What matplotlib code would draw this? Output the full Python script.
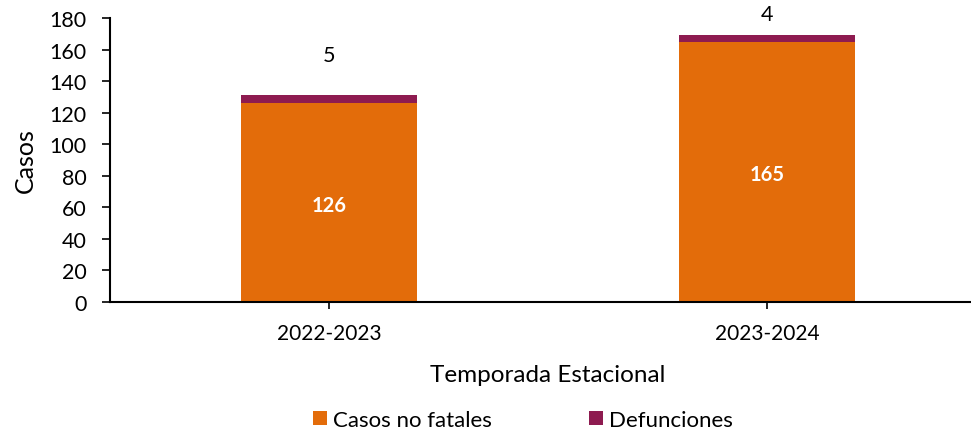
import matplotlib
matplotlib.use("Agg")
import matplotlib.pyplot as plt
import numpy as np

plt.rcParams['font.family'] = ['Lato', 'DejaVu Sans']

categories = ["2022-2023", "2023-2024"]
no_fatales = [126, 165]
defunciones = [5, 4]
# extra offset (in data units) of the Defunciones labels above the bar top
def_label_offset = [27, 15]

c_orange = "#E36C0A"
c_purple = "#8E1B50"

W, H = 971, 431
fig = plt.figure(figsize=(W / 100, H / 100), dpi=100)
left, right, bottom, top = 110, 986, 303, 19
ax = fig.add_axes([left / W, 1 - bottom / H, (right - left) / W, (bottom - top) / H])

x = np.arange(len(categories))
b1 = ax.bar(x, no_fatales, width=0.4, color=c_orange, label="Casos no fatales")
b2 = ax.bar(x, defunciones, width=0.4, bottom=no_fatales, color=c_purple, label="Defunciones")

for xi, v in zip(x, no_fatales):
    ax.text(xi, v / 2, str(v), ha="center", va="center_baseline", color="white",
            fontsize=14.5, fontweight="bold")
for xi, base, v, off in zip(x, no_fatales, defunciones, def_label_offset):
    ax.text(xi, base + v + off, str(v), ha="center", va="center_baseline", color="black",
            fontsize=15.5)

ax.set_xlim(-0.5, 1.5)
ax.set_ylim(0, 180)
ax.set_yticks(np.arange(0, 181, 20))
ax.set_xticks(x)
ax.set_xticklabels(categories)
ax.tick_params(axis="y", labelsize=15.5, length=6, width=1.2, direction="out", pad=11)
ax.tick_params(axis="x", labelsize=15, length=5, width=1.2, direction="out", pad=10)
for s in ["top", "right"]:
    ax.spines[s].set_visible(False)
for s in ["left", "bottom"]:
    ax.spines[s].set_linewidth(1.5)

ax.set_ylabel("Casos", fontsize=18, labelpad=9)
ax.set_xlabel("Temporada Estacional", fontsize=17.5, labelpad=15)

fig.legend(handles=[b1, b2], loc="center", bbox_to_anchor=(523 / W, 1 - 421 / H),
           ncol=2, frameon=False, fontsize=16, handlelength=0.63, handleheight=0.63,
           handletextpad=0.27, columnspacing=4.4, borderpad=0, borderaxespad=0)

fig.savefig("out.png", dpi=100)
